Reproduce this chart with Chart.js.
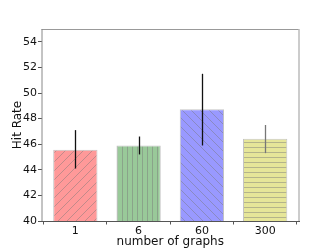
<!DOCTYPE html>
<html><head><meta charset="utf-8">
<script src="https://cdn.jsdelivr.net/npm/chart.js@4.4.0/dist/chart.umd.min.js"></script>
<style>html,body{margin:0;padding:0;background:#fff}#wrap{width:332px;height:249px}</style>
</head><body><div id="wrap"><canvas id="c" width="332" height="249"></canvas></div>
<script>
const categories = ["1", "6", "60", "300"];
const hitRate = [45.56, 45.9, 48.73, 46.43];
const errLow = [44.1, 45.2, 45.9, 45.3];
const errHigh = [47.1, 46.6, 51.5, 47.5];
const yTicks = [40, 42, 44, 46, 48, 50, 52, 54];

const fills = ["#ff9999", "#99c999", "#9999ff", "#e6e699"];
const hatchTypes = ["/", "|", "\\", "-"];
const errColors = ["#111", "#111", "#111", "#777"];

function hatch(bg, type) {
  const c = document.createElement('canvas');
  const ctx = c.getContext('2d');
  let w = 9, h = 9;
  if (type === '|') { w = 5; h = 5; }
  if (type === '-') { w = 5; h = 5; }
  c.width = w; c.height = h;
  ctx.fillStyle = bg; ctx.fillRect(0, 0, w, h);
  ctx.strokeStyle = 'rgba(120,120,120,0.45)';
  ctx.lineWidth = 1;
  ctx.beginPath();
  if (type === '/') {
    ctx.moveTo(-1, h + 1); ctx.lineTo(w + 1, -1);
    ctx.moveTo(-2, 1); ctx.lineTo(1, -2);
    ctx.moveTo(w - 1, h + 2); ctx.lineTo(w + 2, h - 1);
  } else if (type === '\\') {
    ctx.moveTo(-1, -1); ctx.lineTo(w + 1, h + 1);
    ctx.moveTo(w - 1, -2); ctx.lineTo(w + 2, 1);
    ctx.moveTo(-2, h - 1); ctx.lineTo(1, h + 2);
  } else if (type === '|') {
    ctx.moveTo(2.5, 0); ctx.lineTo(2.5, h);
  } else {
    ctx.moveTo(0, 2.5); ctx.lineTo(w, 2.5);
  }
  ctx.stroke();
  return ctx.createPattern(c, 'repeat');
}

const errPlugin = {
  id: 'err',
  afterDatasetsDraw(chart) {
    const ctx = chart.ctx, xs = chart.scales.x, ys = chart.scales.y;
    ctx.save();
    ctx.lineWidth = 1.3;
    for (let i = 0; i < categories.length; i++) {
      const x = Math.round(xs.getPixelForValue(i)) + 0.5;
      ctx.strokeStyle = errColors[i];
      ctx.beginPath();
      ctx.moveTo(x, ys.getPixelForValue(errLow[i]));
      ctx.lineTo(x, ys.getPixelForValue(errHigh[i]));
      ctx.stroke();
    }
    ctx.restore();
  }
};
const framePlugin = {
  id: 'frame',
  afterDraw(chart) {
    const a = chart.chartArea, ctx = chart.ctx;
    ctx.save();
    ctx.lineWidth = 1;
    ctx.strokeStyle = '#999';
    ctx.beginPath(); ctx.moveTo(a.left, a.top + 0.5); ctx.lineTo(a.right, a.top + 0.5); ctx.stroke();
    ctx.strokeStyle = '#888';
    ctx.beginPath(); ctx.moveTo(a.left + 0.5, a.top); ctx.lineTo(a.left + 0.5, a.bottom); ctx.stroke();
    ctx.strokeStyle = '#bbb'; ctx.lineWidth = 1.5;
    ctx.beginPath(); ctx.moveTo(a.right, a.top); ctx.lineTo(a.right, a.bottom); ctx.stroke();
    ctx.strokeStyle = '#555'; ctx.lineWidth = 1;
    ctx.beginPath(); ctx.moveTo(a.left, a.bottom + 0.5); ctx.lineTo(a.right + 1, a.bottom + 0.5); ctx.stroke();
    ctx.restore();
  }
};

new Chart(document.getElementById('c'), {
  type: 'bar',
  data: {
    datasets: [{
      data: hitRate.map((v, i) => ({ x: i, y: v })),
      backgroundColor: fills.map((f, i) => hatch(f, hatchTypes[i])),
      borderColor: '#c4c4c4',
      borderWidth: 1,
      barPercentage: 0.7,
      categoryPercentage: 1
    }]
  },
  plugins: [errPlugin, framePlugin],
  options: {
    responsive: false,
    animation: false,
    devicePixelRatio: 1,
    layout: { padding: { left: 0, right: 33, top: 29, bottom: 0 } },
    plugins: { legend: { display: false }, tooltip: { enabled: false } },
    scales: {
      x: {
        type: 'linear',
        offset: false,
        min: -0.535, max: 3.535,
        afterBuildTicks(s) { s.ticks = categories.map((c, i) => ({ value: i })); },
        afterFit(s) { s.height = 28; },
        ticks: {
          callback: (v) => categories[v],
          color: '#111', padding: 0,
          font: { family: 'DejaVu Sans', size: 11 },
          maxRotation: 0, autoSkip: false
        },
        grid: { drawOnChartArea: false, tickLength: 3.5, color: '#555' },
        border: { display: false },
        title: { display: true, text: 'number of graphs', color: '#111',
          font: { family: 'DejaVu Sans', size: 12 }, padding: { top: 0, bottom: 0 } }
      },
      y: {
        min: 40, max: 55,
        afterBuildTicks(s) { s.ticks = yTicks.map(v => ({ value: v })); },
        afterFit(s) { s.width = 41.5; },
        ticks: { color: '#111', padding: 1, font: { family: 'DejaVu Sans', size: 11 } },
        grid: { drawOnChartArea: false, tickLength: 3.5, color: '#555' },
        border: { display: false },
        title: { display: true, text: 'Hit Rate', color: '#111',
          font: { family: 'DejaVu Sans', size: 12 }, padding: { top: 11, bottom: 0 } }
      }
    }
  }
});
</script></body></html>
